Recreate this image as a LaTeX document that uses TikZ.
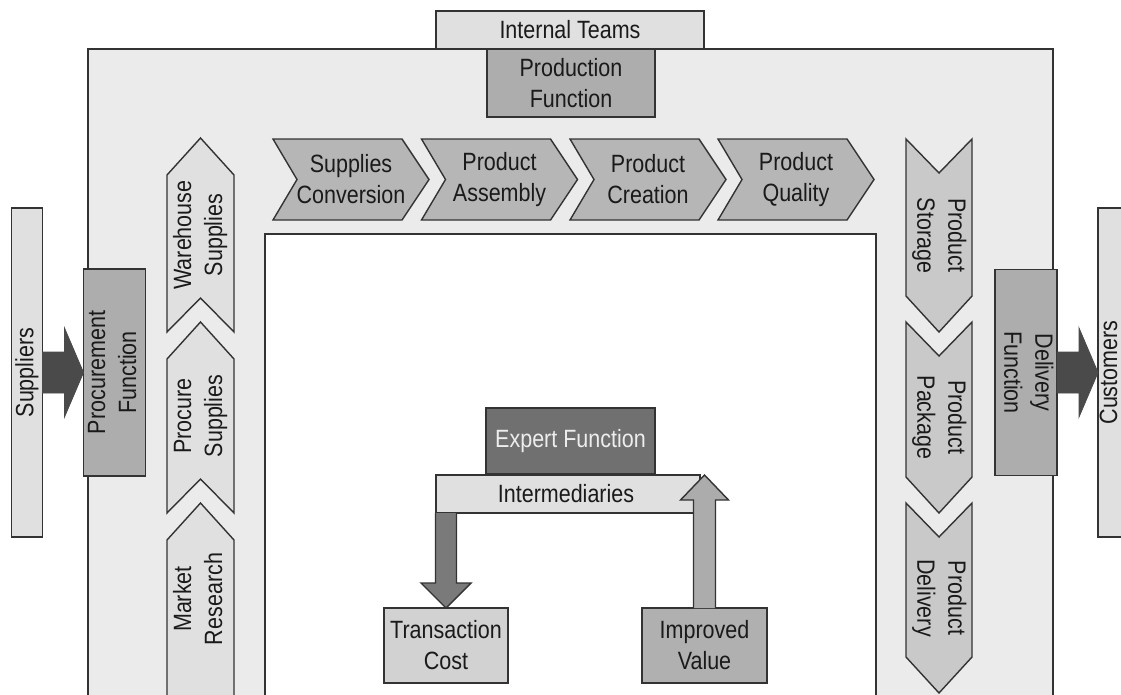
\documentclass[tikz,border=0pt]{standalone}
\usepackage{fontspec}
\setmainfont{Liberation Sans}[FakeStretch=0.86]
\usetikzlibrary{calc}

\definecolor{ink}{HTML}{333333}
\definecolor{textcol}{HTML}{1A1A1A}
\definecolor{framefill}{HTML}{EBEBEB}
\definecolor{lightfill}{HTML}{E0E0E0}
\definecolor{midfill}{HTML}{ADADAD}
\definecolor{topchevfill}{HTML}{B6B6B6}
\definecolor{rightchevfill}{HTML}{C9C9C9}
\definecolor{expertfill}{HTML}{707070}
\definecolor{darkarrowfill}{HTML}{4A4A4A}
\definecolor{downarrowfill}{HTML}{7A7A7A}
\definecolor{uparrowfill}{HTML}{ACACAC}
\definecolor{costfill}{HTML}{D2D2D2}
\definecolor{valuefill}{HTML}{B0B0B0}

% two centred lines inside one box
\newcommand\twolines[2]{\begin{tabular}{@{}c@{}}#1\\#2\end{tabular}}

% chevron pointing right: #1 left x, #2 node name, #3 label
\newcommand\topchev[3]{%
  \draw[chevtop] (#1,139) -- ++(129,0) -- ++(27,40.5) -- ++(-27,40.5)
    -- ++(-129,0) -- ++(24,-40.5) -- cycle;
  \node[txt] (#2) at (#1+78,179.5) {#3};}

% chevron pointing up: #1 tip y, #2 bottom y, #3 label centre y, #4 name, #5 label
\newcommand\upchev[5]{%
  \draw[chevleft] (167,#1+37) -- (200.5,#1) -- (234,#1+37) -- (234,#2)
    -- (200.5,#2-34) -- (167,#2) -- cycle;
  \node[txt] (#4) at (200.5,#3) {\rotatebox{90}{#5}};}

% chevron pointing down: #1 top y, #2 tip y, #3 name, #4 label
\newcommand\downchev[4]{%
  \draw[chevright] (906,#1) -- (939,#1+34) -- (972,#1) -- (972,#2-36)
    -- (939,#2) -- (906,#2-36) -- cycle;
  \node[txt] (#3) at (939,{(#1+#2)/2}) {\rotatebox{-90}{#4}};}

\begin{document}
\begin{tikzpicture}[x=1pt,y=-1pt,
  font=\fontsize{25}{31}\selectfont,
  txt/.style={text=textcol,inner sep=0pt,align=center},
  box/.style={draw=ink,line width=1.5pt,inner sep=0pt,outer sep=0pt,
              align=center,text=textcol},
  frame/.style={draw=ink,line width=1.6pt,fill=framefill},
  chevtop/.style={draw=ink,line width=1.4pt,fill=topchevfill,line join=miter},
  chevleft/.style={draw=ink,line width=1.4pt,fill=lightfill,line join=miter},
  chevright/.style={draw=ink,line width=1.4pt,fill=rightchevfill,line join=miter},
  bigarrow/.style={draw=darkarrowfill,line width=0.8pt,fill=darkarrowfill},
  downarrow/.style={draw=ink,line width=1.4pt,fill=downarrowfill},
  uparrow/.style={draw=ink,line width=1.4pt,fill=uparrowfill}]

\useasboundingbox (0,0) rectangle (1121,694);
\clip (0,0) rectangle (1121,694);
\fill[white] (0,0) rectangle (1121,694);

% outer U-shaped frame with the open white centre
\draw[frame] (88,49) rectangle (1053,730);
\draw[draw=ink,line width=1.5pt,fill=white] (265,234) rectangle (876,730);

% top boxes
\node[box,fill=lightfill,minimum width=268,minimum height=38] (teams) at (570,30) {Internal Teams};
\node[box,fill=midfill,minimum width=168,minimum height=68] (prod) at (571,83) {Production\\Function};

% outside parties and the two boundary functions
\node[box,fill=lightfill,minimum width=31,minimum height=329] (sup) at (27,372.5) {\rotatebox{90}{Suppliers}};
\node[box,fill=midfill,minimum width=53,minimum height=207] (proc) at (114.5,372.5) {\rotatebox{90}{\twolines{Procurement}{Function}}};
\node[box,fill=midfill,minimum width=54,minimum height=206] (dlv) at (1026,372.5) {\rotatebox{-90}{\twolines{Delivery}{Function}}};
\node[box,fill=lightfill,minimum width=34,minimum height=329] (cust) at (1115,372.5) {};
\node[txt] (custlabel) at (1108.5,372.5) {\rotatebox{90}{Customers}};

% block arrows across the boundary
\draw[bigarrow] ($(sup.east)+(0,-20.5)$) -- ($(proc.west)+(-19,-20.5)$)
  -- ($(proc.west)+(-19,-44.5)$) -- (proc.west) -- ($(proc.west)+(-19,44.5)$)
  -- ($(proc.west)+(-19,20.5)$) -- ($(sup.east)+(0,20.5)$) -- cycle;
\draw[bigarrow] ($(dlv.east)+(0,-20.5)$) -- ($(cust.west)+(-19,-20.5)$)
  -- ($(cust.west)+(-19,-44.5)$) -- (cust.west) -- ($(cust.west)+(-19,44.5)$)
  -- ($(cust.west)+(-19,20.5)$) -- ($(dlv.east)+(0,20.5)$) -- cycle;

% inbound chain
\upchev{138}{332}{235}{warehouse}{\twolines{Warehouse}{Supplies}}
\upchev{322}{513}{416}{procure}{\twolines{Procure}{Supplies}}
\upchev{503}{760}{599}{market}{\twolines{Market}{Research}}

% production chain
\topchev{273}{conversion}{Supplies\\Conversion}
\topchev{421.5}{assembly}{Product\\Assembly}
\topchev{570}{creation}{Product\\Creation}
\topchev{718}{quality}{Product\\Quality}

% outbound chain
\downchev{139}{332}{storage}{\twolines{Product}{Storage}}
\downchev{322}{513}{package}{\twolines{Product}{Package}}
\downchev{503}{693}{delivery}{\twolines{Product}{Delivery}}

% expert function and intermediaries
\node[box,fill=expertfill,text=white!93!black,minimum width=169,minimum height=66] (expert) at (570.5,441) {Expert Function};
\node[box,fill=lightfill,minimum width=264,minimum height=38] (inter) at (568,494) {};
\node[txt] (interlabel) at (566,494) {Intermediaries};
\node[box,fill=costfill,minimum width=124,minimum height=75] (tc) at (446,645.5) {Transaction\\Cost};
\node[box,fill=valuefill,minimum width=125,minimum height=75] (iv) at (704.5,645.5) {Improved\\Value};

% intermediaries -> transaction cost
\draw[downarrow] ($(tc.north |- inter.south)+(-10.5,0)$) -- ($(tc.north)+(-10.5,-25)$)
  -- ($(tc.north)+(-25,-25)$) -- (tc.north) -- ($(tc.north)+(25,-25)$)
  -- ($(tc.north)+(10.5,-25)$) -- ($(tc.north |- inter.south)+(10.5,0)$);

% improved value -> intermediaries
\draw[uparrow] ($(iv.north)+(-11,0)$) -- ($(iv.north |- inter.north)+(-11,25)$)
  -- ($(iv.north |- inter.north)+(-24,25)$) -- (iv.north |- inter.north)
  -- ($(iv.north |- inter.north)+(24,25)$) -- ($(iv.north |- inter.north)+(11,25)$)
  -- ($(iv.north)+(11,0)$);

\end{tikzpicture}
\end{document}
